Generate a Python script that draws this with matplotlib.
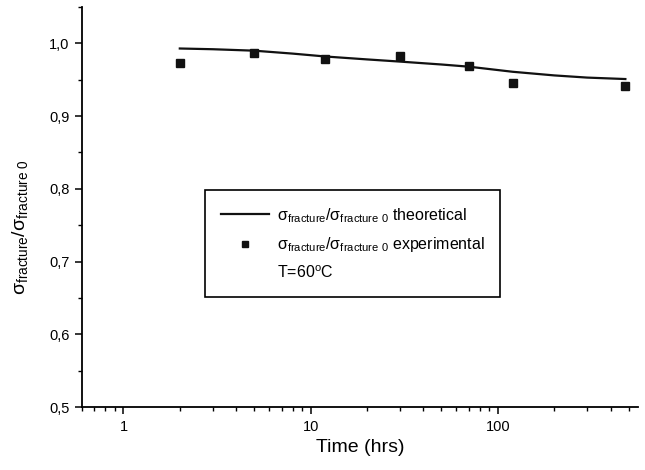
import matplotlib
matplotlib.use("Agg")
import matplotlib.pyplot as plt
from matplotlib.lines import Line2D
from matplotlib.ticker import FixedLocator, FixedFormatter, LogLocator, NullFormatter, MultipleLocator

# theoretical curve
t_theory = [2, 3, 5, 8, 12, 20, 30, 50, 70, 120, 200, 300, 480]
r_theory = [0.993, 0.992, 0.990, 0.986, 0.982, 0.978, 0.975, 0.971, 0.968, 0.961, 0.956, 0.953, 0.951]

# experimental points
t_exp = [2, 5, 12, 30, 70, 120, 480]
r_exp = [0.973, 0.987, 0.978, 0.983, 0.969, 0.946, 0.942]

x_ticks = [1, 10, 100]
x_tick_labels = ["1", "10", "100"]
y_ticks = [0.5, 0.6, 0.7, 0.8, 0.9, 1.0]
y_tick_labels = ["0,5", "0,6", "0,7", "0,8", "0,9", "1,0"]

plt.rcParams["font.family"] = ["Liberation Sans", "DejaVu Sans"]
plt.rcParams["mathtext.fontset"] = "custom"
plt.rcParams["mathtext.rm"] = "Liberation Sans"
plt.rcParams["mathtext.it"] = "Liberation Sans:italic"
plt.rcParams["mathtext.bf"] = "Liberation Sans:bold"

fig = plt.figure(figsize=(6.45, 4.70), dpi=100)
ax = fig.add_axes([0.127, 0.134, 0.862, 0.851])

ax.plot(t_theory, r_theory, color="#111111", lw=1.6)
ax.plot(t_exp, r_exp, ls="none", marker="s", ms=6, color="#111111")

ax.set_xscale("log")
ax.set_xlim(0.6, 560)
ax.set_ylim(0.5, 1.05)

ax.xaxis.set_major_locator(FixedLocator(x_ticks))
ax.xaxis.set_major_formatter(FixedFormatter(x_tick_labels))
ax.xaxis.set_minor_locator(LogLocator(base=10, subs=range(2, 10), numticks=20))
ax.xaxis.set_minor_formatter(NullFormatter())
ax.yaxis.set_major_locator(FixedLocator(y_ticks))
ax.yaxis.set_major_formatter(FixedFormatter(y_tick_labels))
ax.yaxis.set_minor_locator(MultipleLocator(0.05))

for side in ("top", "right"):
    ax.spines[side].set_visible(False)
for side in ("left", "bottom"):
    ax.spines[side].set_linewidth(1.3)
ax.tick_params(which="major", direction="out", length=5, width=1.1, labelsize=10.5, pad=4)
ax.tick_params(which="minor", direction="out", length=3, width=1.0)

sig = "σ$_{\\mathrm{fracture}}$/σ$_{\\mathrm{fracture\\ 0}}$"
ax.set_xlabel("Time (hrs)", fontsize=14, labelpad=4)
ax.set_ylabel(sig, fontsize=14)
ax.yaxis.set_label_coords(-0.094, 0.45)

handles = [
    Line2D([], [], color="#111111", lw=1.6),
    Line2D([], [], ls="none", marker="s", ms=5, color="#111111"),
    Line2D([], [], ls="none"),
]
labels = [sig + " theoretical", sig + " experimental", "T=60$^{\\mathrm{o}}$C"]
leg = ax.legend(handles, labels, loc="upper left", bbox_to_anchor=(0.221, 0.5425),
                borderaxespad=0, fontsize=11.5, handlelength=3, handletextpad=0.5,
                frameon=True, fancybox=False, edgecolor="black", framealpha=1,
                labelspacing=0.65, borderpad=1.0)
leg.get_frame().set_linewidth(1.2)

fig.savefig("out.png", dpi=100)
